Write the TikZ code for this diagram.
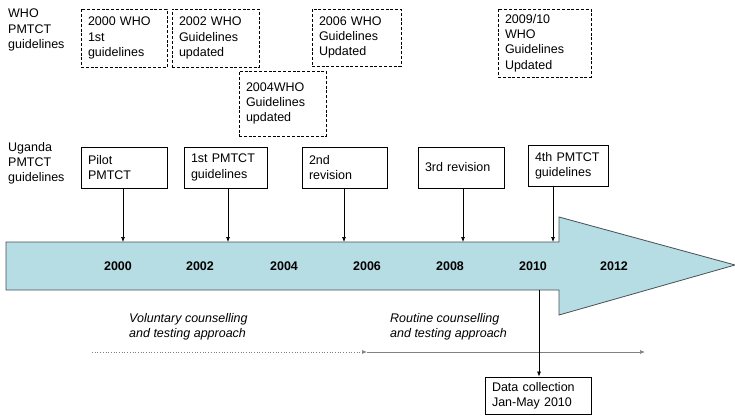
\documentclass[tikz,border=0pt]{standalone}
\usepackage{fontspec}
\setmainfont{Liberation Sans}
\usetikzlibrary{arrows.meta}
\usepackage{xcolor}
\definecolor{tlblue}{RGB}{183,221,228}
\definecolor{tlline}{RGB}{70,80,85}

\begin{document}
\begin{tikzpicture}[
    x=1pt, y=-1pt,
    every node/.style={font=\fontsize{12.5}{15.2}\selectfont, align=left},
    whobox/.style={draw, line width=0.9pt, dash pattern=on 3pt off 1.8pt, inner xsep=7pt, inner ysep=3pt},
    ugbox/.style={draw, line width=0.8pt, inner xsep=7pt, inner ysep=3pt},
    arr/.style={-{Latex[length=5pt,width=4pt]}, line width=0.7pt},
    yr/.style={font=\fontsize{12.5}{15}\selectfont\bfseries}
]
\useasboundingbox (0,0) rectangle (735,415);

% row labels
\node[anchor=north west, inner sep=0pt] (wholab) at (8,9) {WHO\\PMTCT\\guidelines};
\node[anchor=north west, inner sep=0pt] (uglab) at (8,142) {Uganda\\PMTCT\\guidelines};

% WHO guideline boxes
\node[whobox, text width=72pt, minimum height=58pt] (who00) at (124,38) {2000 WHO\\1st\\guidelines};
\node[whobox, text width=73pt, minimum height=58pt] (who02) at (215.5,38) {2002 WHO\\Guidelines\\updated};
\node[whobox, text width=73pt, minimum height=65pt] (who04) at (282.5,103.5) {2004WHO\\Guidelines\\updated};
\node[whobox, text width=75pt, minimum height=57pt] (who06) at (356.5,37.5) {2006 WHO\\Guidelines\\Updated};
\node[whobox, text width=79pt, minimum height=68pt] (who09) at (544.5,43) {2009/10\\WHO\\Guidelines\\Updated};

% timeline
\draw[fill=tlblue, draw=tlline, line width=0.8pt]
    (6,242) -- (559,242) -- (559,217) -- (735,265) -- (559,315) -- (559,290) -- (6,290) -- cycle;
\node[yr] (y00) at (118,266) {2000};
\node[yr] (y02) at (200,266) {2002};
\node[yr] (y04) at (284,266) {2004};
\node[yr] (y06) at (367,266) {2006};
\node[yr] (y08) at (450,266) {2008};
\node[yr] (y10) at (533,266) {2010};
\node[yr] (y12) at (614,266) {2012};

% Uganda guideline boxes
\node[ugbox, text width=72pt, minimum height=41pt] (pilot) at (124,167.5) {Pilot\\PMTCT};
\node[ugbox, text width=69pt, minimum height=41pt] (first) at (225.5,167.5) {1st PMTCT\\guidelines};
\node[ugbox, text width=71pt, minimum height=41pt] (second) at (344.5,167.5) {2nd\\revision};
\node[ugbox, text width=72pt, minimum height=41pt] (third) at (461,167.5) {3rd revision};
\node[ugbox, text width=66pt, minimum height=41pt] (fourth) at (568,166) {4th PMTCT\\guidelines};

\coordinate (t00) at (123,242);
\coordinate (t02) at (228,242);
\coordinate (t06) at (344,242);
\coordinate (t08) at (463,242);
\coordinate (t10) at (553,242);
\draw[arr] (pilot.south -| t00) -- (t00);
\draw[arr] (first.south -| t02) -- (t02);
\draw[arr] (second.south -| t06) -- (t06);
\draw[arr] (third.south -| t08) -- (t08);
\draw[arr] (fourth.south -| t10) -- (t10);

% approaches
\node[anchor=north west, inner sep=0pt, font=\fontsize{12.5}{15.2}\selectfont\itshape] (vct) at (129,313) {Voluntary counselling\\and testing approach};
\node[anchor=north west, inner sep=0pt, font=\fontsize{12.5}{15.2}\selectfont\itshape] (rct) at (390,313) {Routine counselling\\and testing approach};
\coordinate (vs) at (92,352);
\coordinate (ve) at (367,352);
\coordinate (re) at (645,352);
\draw[arr, dotted, draw=gray] (vs) -- (ve);
\draw[arr, draw=gray] (ve) -- (re);

% data collection
\node[ugbox, inner ysep=1pt, text width=92pt, minimum height=37pt, font=\fontsize{12.5}{15}\selectfont] (data) at (538,395.5) {Data collection\\Jan-May 2010};
\coordinate (dtop) at (539,290);
\draw[arr] (dtop) -- (data.north -| dtop);

\end{tikzpicture}
\end{document}
